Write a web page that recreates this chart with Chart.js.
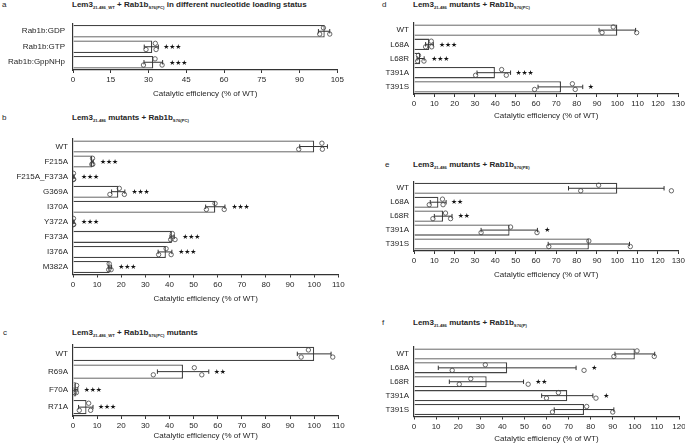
<!DOCTYPE html>
<html>
<head>
<meta charset="utf-8">
<script src="https://cdn.jsdelivr.net/npm/chart.js@4"></script>
<style>
body { margin: 0; background: #fff; width: 685px; height: 444px; position: relative; overflow: hidden;
       font-family: 'Liberation Sans', Arial, sans-serif; color: #262626; }
canvas { position: absolute; }
.lbl { position: absolute; font-size: 8px; line-height: 10px; }
.ttl { position: absolute; font-size: 8px; line-height: 10px; font-weight: bold; white-space: nowrap; }
.ttl sub { font-size: 4.2px; vertical-align: -1.5px; }
</style>
</head>
<body>
<div class="lbl" style="left:2px;top:0px">a</div>
<div class="ttl" style="left:72px;top:0px">Lem3<sub>21-486_WT</sub> + Rab1b<sub>S76(PC)</sub> in different nucleotide loading status</div>
<div class="lbl" style="left:2px;top:113px">b</div>
<div class="ttl" style="left:72px;top:113px">Lem3<sub>21-486</sub> mutants + Rab1b<sub>S76(PC)</sub></div>
<div class="lbl" style="left:3px;top:328px">c</div>
<div class="ttl" style="left:72px;top:328px">Lem3<sub>21-486_WT</sub> + Rab1b<sub>S76(PC)</sub> mutants</div>
<div class="lbl" style="left:382px;top:0px">d</div>
<div class="ttl" style="left:413px;top:0px">Lem3<sub>21-486</sub> mutants + Rab1b<sub>S76(PC)</sub></div>
<div class="lbl" style="left:385px;top:160px">e</div>
<div class="ttl" style="left:413px;top:160px">Lem3<sub>21-486</sub> mutants + Rab1b<sub>S76(PE)</sub></div>
<div class="lbl" style="left:382px;top:318px">f</div>
<div class="ttl" style="left:413px;top:318px">Lem3<sub>21-486</sub> mutants + Rab1b<sub>S76(P)</sub></div>
<script>
// panel a
var aLabels = ['Rab1b:GDP', 'Rab1b:GTP', 'Rab1b:GppNHp'];
var aMeans = [100, 31.5, 31.9];
var aErrLo = [97.5, 28.3, 28.2];
var aErrHi = [102, 33.9, 35.6];
var aPoints = [[99.5, 98, 102], [32.7, 29, 33], [32.6, 28, 35.4]];
var aStars = ['', '***', '***'];
var aTicks = [0, 15, 30, 45, 60, 75, 90, 105];

// panel b
var bLabels = ['WT', 'F215A', 'F215A_F373A', 'G369A', 'I370A', 'Y372A', 'F373A', 'I376A', 'M382A'];
var bMeans = [100, 8, 0.3, 18.8, 59, 0.3, 41, 38.5, 15.2];
var bErrLo = [94, 7.6, 0.1, 16, 55, 0.1, 40.2, 35.3, 14.6];
var bErrHi = [105.5, 8.4, 0.5, 21.5, 63, 0.5, 42, 41, 16];
var bPoints = [[103.2, 93.6, 103.4], [8.1, 7.8, 8.2], [0.2, 0.1, 0.3], [19.2, 15.3, 21.3], [58.9, 55.3, 62.7],
               [0.2, 0.1, 0.3], [41.2, 40.5, 42.3], [38.6, 35.5, 40.7], [15, 14.8, 15.8]];
var bStars = ['', '***', '***', '***', '***', '***', '***', '***', '***'];
var bTicks = [0, 10, 20, 30, 40, 50, 60, 70, 80, 90, 100, 110];

// panel c
var cLabels = ['WT', 'R69A', 'F70A', 'R71A'];
var cMeans = [100, 45.6, 1.2, 5.6];
var cErrLo = [93, 35, 0.5, 2.3];
var cErrHi = [107, 56.3, 2, 8.3];
var cPoints = [[97.6, 94.6, 107.7], [50.3, 33.3, 53.4], [1.5, 0.6, 1.4], [6.5, 2.6, 7.3]];
var cStars = ['', '**', '***', '***'];
var cTicks = [0, 10, 20, 30, 40, 50, 60, 70, 80, 90, 100, 110];

// panel d
var dLabels = ['WT', 'L68A', 'L68R', 'T391A', 'T391S'];
var dMeans = [100, 7.5, 3, 39.8, 72.3];
var dErrLo = [91, 5.7, 1.5, 31, 61];
var dErrHi = [109, 9.5, 5, 47.5, 83];
var dPoints = [[98, 92.5, 109.5], [8.5, 5.7, 8.7], [2.2, 1.8, 4.9], [43.1, 30.3, 45.4], [77.9, 59.3, 79.3]];
var dStars = ['', '***', '***', '***', '*'];
var dTicks = [0, 10, 20, 30, 40, 50, 60, 70, 80, 90, 100, 110, 120, 130];

// panel e
var eLabels = ['WT', 'L68A', 'L68R', 'T391A', 'T391S'];
var eMeans = [100, 12, 14.3, 47, 86];
var eErrLo = [76, 8, 10, 33, 66];
var eErrHi = [123, 15.8, 18.7, 60.7, 106];
var ePoints = [[90.8, 82, 126.6], [14, 7.5, 14.3], [15.5, 9.3, 18], [47.5, 33, 60.5], [86, 66.3, 106.4]];
var eStars = ['', '**', '**', '*', ''];
var eTicks = [0, 10, 20, 30, 40, 50, 60, 70, 80, 90, 100, 110, 120, 130];

// panel f
var fLabels = ['WT', 'L68A', 'L68R', 'T391A', 'T391S'];
var fMeans = [100, 42.2, 32.9, 69.4, 77];
var fErrLo = [91, 11, 16, 57.8, 63.5];
var fErrHi = [109, 73.4, 49.6, 81, 90.5];
var fPoints = [[101, 90.5, 108.8], [32.3, 17.3, 77], [25.7, 20.5, 51.7], [65.4, 60, 82.4], [78.2, 62.7, 90]];
var fStars = ['', '*', '**', '*', ''];
var fTicks = [0, 10, 20, 30, 40, 50, 60, 70, 80, 90, 100, 110, 120];

var AXIS_TITLE = 'Catalytic efficiency (% of WT)';
var INK = '#262626';
var LINE = '#333';
var JITTER = [-0.22, 0.18, 0.18];   // vertical spread of replicate dots

Chart.defaults.font.family = "'Liberation Sans', Arial, sans-serif";
Chart.defaults.font.size = 8;
Chart.defaults.color = INK;

function makePanel(cLeft, cWidth, g, labels, means, lo, hi, points, stars, ticks) {
    var cv = document.createElement('canvas');
    var xH = g.title + 4.8;
    var cTop = Math.floor(g.t - 8);
    var cH = Math.ceil(g.b + xH - cTop) + 1;
    cv.width = cWidth;
    cv.height = cH;
    cv.style.left = cLeft + 'px';
    cv.style.top = cTop + 'px';
    document.body.appendChild(cv);

    var bars = means.map(function (v, i) { return { x: v, y: i }; });
    var dots = [];
    points.forEach(function (row, i) {
        row.forEach(function (v, k) { dots.push({ x: v, y: i + JITTER[k] }); });
    });

    // error bars go between the bars and the dots, stars on top
    var extras = {
        id: 'extras',
        afterDatasetDraw: function (chart, args) {
            if (args.index !== 0) return;
            var ctx = chart.ctx, xs = chart.scales.x, ys = chart.scales.y;
            ctx.save();
            ctx.strokeStyle = LINE;
            ctx.lineWidth = 1;
            lo.forEach(function (l, i) {
                var yc = ys.getPixelForValue(i);
                var x1 = xs.getPixelForValue(l), x2 = xs.getPixelForValue(hi[i]);
                ctx.beginPath();
                ctx.moveTo(x1, yc); ctx.lineTo(x2, yc);
                ctx.moveTo(x1, yc - 2.2); ctx.lineTo(x1, yc + 2.2);
                ctx.moveTo(x2, yc - 2.2); ctx.lineTo(x2, yc + 2.2);
                ctx.stroke();
            });
            ctx.restore();
        },
        afterDraw: function (chart) {
            var ctx = chart.ctx, xs = chart.scales.x, ys = chart.scales.y;
            ctx.save();
            ctx.fillStyle = '#111';
            ctx.font = "6.8px 'DejaVu Sans'";
            ctx.textBaseline = 'middle';
            stars.forEach(function (s, i) {
                if (!s) return;
                var x0 = Math.max(xs.getPixelForValue(hi[i]), xs.getPixelForValue(Math.max.apply(null, points[i])) + 2.2) + 5;
                var yc = ys.getPixelForValue(i);
                for (var k = 0; k < s.length; k++) ctx.fillText('\u2605', x0 + k * 6, yc + 0.5);
            });
            ctx.restore();
        }
    };

    return new Chart(cv, {
        type: 'bar',
        data: {
            datasets: [{
                type: 'bar',
                data: bars,
                backgroundColor: '#fff',
                borderColor: '#444',
                borderWidth: 1.3,
                barPercentage: 0.8,
                categoryPercentage: 1,
                order: 2
            }, {
                type: 'scatter',
                data: dots,
                pointRadius: 2.2,
                pointBorderWidth: 0.8,
                pointBorderColor: '#444',
                pointBackgroundColor: 'rgba(255,255,255,0)',
                order: 1
            }]
        },
        options: {
            indexAxis: 'y',
            responsive: false,
            animation: false,
            devicePixelRatio: 1,
            events: [],
            layout: { padding: { top: g.t - cTop, right: cLeft + cWidth - g.r, bottom: cTop + cH - (g.b + xH), left: 0 } },
            plugins: { legend: { display: false }, tooltip: { enabled: false } },
            scales: {
                x: {
                    type: 'linear',
                    min: 0,
                    max: ticks[ticks.length - 1],
                    afterBuildTicks: function (s) { s.ticks = ticks.map(function (v) { return { value: v }; }); },
                    afterFit: function (s) { s.height = xH; },
                    grid: { display: true, drawOnChartArea: false, drawTicks: true, tickLength: 3, color: LINE, lineWidth: 1 },
                    border: { display: true, color: LINE, width: 1.2 },
                    ticks: { padding: 2.2, maxRotation: 0, autoSkip: false },
                    title: { display: true, text: AXIS_TITLE, padding: 0 }
                },
                y: {
                    type: 'linear',
                    reverse: true,
                    offset: false,
                    min: -0.5,
                    max: labels.length - 0.5,
                    afterBuildTicks: function (s) { s.ticks = labels.map(function (l, i) { return { value: i }; }); },
                    afterFit: function (s) { s.width = g.l - cLeft; },
                    grid: { display: false, drawTicks: true, tickLength: g.lpad },
                    border: { display: true, color: LINE, width: 1.2 },
                    ticks: { padding: 0, autoSkip: false, callback: function (v) { return labels[v]; } }
                }
            }
        },
        plugins: [extras]
    });
}

makePanel(0, 348, { l: 73, r: 337.3, t: 23.5, b: 70, title: 24, lpad: 8 },
          aLabels, aMeans, aErrLo, aErrHi, aPoints, aStars, aTicks);
makePanel(0, 348, { l: 73, r: 338.3, t: 139, b: 274.5, title: 24, lpad: 5 },
          bLabels, bMeans, bErrLo, bErrHi, bPoints, bStars, bTicks);
makePanel(0, 348, { l: 73, r: 338.3, t: 345, b: 416, title: 19.5, lpad: 5 },
          cLabels, cMeans, cErrLo, cErrHi, cPoints, cStars, cTicks);
makePanel(345, 345, { l: 414, r: 678.3, t: 23, b: 94, title: 22, lpad: 5 },
          dLabels, dMeans, dErrLo, dErrHi, dPoints, dStars, dTicks);
makePanel(345, 345, { l: 414, r: 678.3, t: 181.3, b: 251, title: 24, lpad: 5 },
          eLabels, eMeans, eErrLo, eErrHi, ePoints, eStars, eTicks);
makePanel(345, 345, { l: 414, r: 679, t: 347, b: 416.5, title: 22.6, lpad: 5 },
          fLabels, fMeans, fErrLo, fErrHi, fPoints, fStars, fTicks);
</script>
</body>
</html>
